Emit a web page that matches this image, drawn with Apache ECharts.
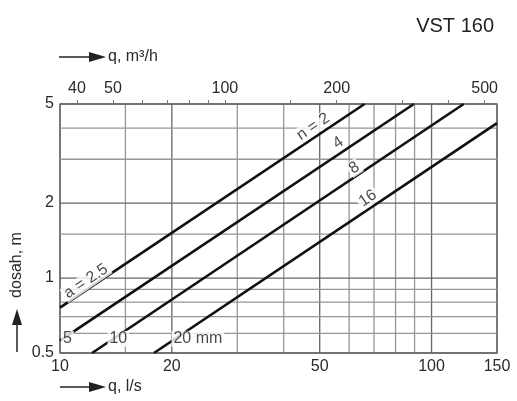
<!DOCTYPE html>
<html>
<head>
<meta charset="utf-8">
<script src="https://cdn.jsdelivr.net/npm/echarts@6/dist/echarts.min.js"></script>
<style>html,body{margin:0;padding:0;background:#fff}#c{width:517px;height:401px}</style>
</head>
<body>
<div id="c"></div>
<script>
// ---- data ----
const qGrid = [10, 15, 20, 30, 40, 50, 60, 70, 80, 90, 100, 150];     // l/s grid lines
const qLabels = [10, 20, 50, 100, 150];
const hGrid = [0.5, 0.6, 0.7, 0.8, 0.9, 1, 1.5, 2, 3, 4, 5];          // m grid lines
const hLabels = [0.5, 1, 2, 5];
const m3hTicks = [40, 50, 60, 70, 80, 90, 100, 150, 200, 300, 400, 500];
const m3hLabels = [40, 50, 100, 200, 500];

const lineN2 = [[10, 0.76], [66, 5]];
const lineN4 = [[10, 0.56], [89.6, 5]];
const lineN8 = [[12.2, 0.5], [122, 5]];
const lineN16 = [[17.9, 0.5], [150, 4.19]];

const labelTexts = ['n = 2', '4', '8', '16', 'a = 2.5', '5', '10', '20 mm'];
const labelQ = [48, 56.1, 61.9, 67.4, 11.75, 10.47, 14.35, 23.5];
const labelH = [4.05, 3.49, 2.77, 2.09, 0.97, 0.57, 0.57, 0.57];
const labelRot = [34, 34, 34, 34, 34, 0, 0, 0];

const majorQ = [10, 20, 50, 100, 150];
const majorH = [0.5, 1, 2, 5];

const FONT = 'Liberation Sans';
const TXT = '#2a2a2a';

const chart = echarts.init(document.getElementById('c'), null, {renderer: 'canvas'});

function vGrid(params, api) {
  const v = api.value(0);
  const p = api.coord([v, 1]);
  const cs = params.coordSys;
  const major = majorQ.indexOf(v) >= 0;
  return {type: 'line', shape: {x1: p[0], y1: cs.y, x2: p[0], y2: cs.y + cs.height},
    style: {stroke: major ? '#666' : '#969696', lineWidth: 1.3}};
}
function hGridR(params, api) {
  const v = api.value(1);
  const p = api.coord([20, v]);
  const cs = params.coordSys;
  const major = majorH.indexOf(v) >= 0;
  return {type: 'line', shape: {x1: cs.x, y1: p[1], x2: cs.x + cs.width, y2: p[1]},
    style: {stroke: major ? '#666' : '#969696', lineWidth: 1.3}};
}

const lineStyle = {color: '#111', width: 2.7};
const mkLine = (d) => ({type: 'line', data: d, showSymbol: false, symbol: 'none',
  lineStyle: lineStyle, z: 3, silent: true, animation: false});

chart.setOption({
  animation: false,
  title: {text: 'VST 160', right: 18, top: 11,
    textStyle: {fontFamily: FONT, fontSize: 20, fontWeight: 'normal', color: '#222'}},
  grid: {left: 60, top: 104, width: 437, height: 249, show: true,
    borderColor: '#777', borderWidth: 1.5, backgroundColor: 'transparent'},
  xAxis: [
    {type: 'log', logBase: 10, min: 10, max: 150, position: 'bottom',
      axisLine: {show: false}, axisTick: {show: false}, splitLine: {show: false},
      minorTick: {show: false}, minorSplitLine: {show: false},
      axisLabel: {customValues: qLabels, fontFamily: FONT, fontSize: 16, color: TXT, margin: 6,
        formatter: (v) => String(Math.round(v))}},
    {type: 'log', logBase: 10, min: 36, max: 540, position: 'top',
      axisLine: {show: false}, splitLine: {show: false},
      axisTick: {show: true, customValues: m3hTicks, length: 4, inside: false,
        lineStyle: {color: '#777', width: 1}},
      axisLabel: {customValues: m3hLabels, fontFamily: FONT, fontSize: 16, color: TXT, margin: 7,
        formatter: (v) => String(Math.round(v))}}
  ],
  yAxis: {type: 'log', logBase: 10, min: 0.5, max: 5,
    axisLine: {show: false}, axisTick: {show: false}, splitLine: {show: false},
    axisLabel: {customValues: hLabels, fontFamily: FONT, fontSize: 16, color: TXT, margin: 6,
      formatter: (v) => String(Math.round(v * 10) / 10)}},
  series: [
    {type: 'custom', renderItem: vGrid, data: qGrid.map(v => [v, 1]), z: 1, silent: true, clip: false},
    {type: 'custom', renderItem: hGridR, data: hGrid.map(v => [20, v]), z: 1, silent: true, clip: false},
    mkLine(lineN2), mkLine(lineN4), mkLine(lineN8), mkLine(lineN16),
    {type: 'scatter', symbolSize: 0, z: 5, silent: true,
      data: labelTexts.map((t, i) => ({name: t, value: [labelQ[i], labelH[i]],
        label: {rotate: labelRot[i]}})),
      label: {show: true, position: 'inside', formatter: '{b}', fontFamily: FONT, fontSize: 16,
        color: '#1a1a1a', backgroundColor: '#fff', padding: [0, 2], align: 'center', verticalAlign: 'middle'}}
  ],
  graphic: [
    // top axis title
    {type: 'line', shape: {x1: 59, y1: 57, x2: 92, y2: 57}, style: {stroke: '#222', lineWidth: 1.5}},
    {type: 'polygon', shape: {points: [[89, 52], [106, 57], [89, 62]]}, style: {fill: '#222'}},
    {type: 'text', x: 108, y: 57, style: {text: 'q, m³/h', fontFamily: FONT, fontSize: 16, fill: TXT,
      textVerticalAlign: 'middle', verticalAlign: 'middle'}},
    // bottom axis title
    {type: 'line', shape: {x1: 60, y1: 387, x2: 92, y2: 387}, style: {stroke: '#222', lineWidth: 1.5}},
    {type: 'polygon', shape: {points: [[89, 382], [106, 387], [89, 392]]}, style: {fill: '#222'}},
    {type: 'text', x: 108, y: 387, style: {text: 'q, l/s', fontFamily: FONT, fontSize: 16, fill: TXT,
      textVerticalAlign: 'middle', verticalAlign: 'middle'}},
    // y axis title
    {type: 'line', shape: {x1: 17, y1: 352, x2: 17, y2: 322}, style: {stroke: '#222', lineWidth: 1.5}},
    {type: 'polygon', shape: {points: [[12, 325], [17, 309], [22, 325]]}, style: {fill: '#222'}},
    {type: 'text', x: 17, y: 265, rotation: Math.PI / 2, style: {text: 'dosah, m', fontFamily: FONT,
      fontSize: 16, fill: TXT, align: 'center', textAlign: 'center', verticalAlign: 'middle', textVerticalAlign: 'middle'}}
  ]
});
</script>
</body>
</html>
